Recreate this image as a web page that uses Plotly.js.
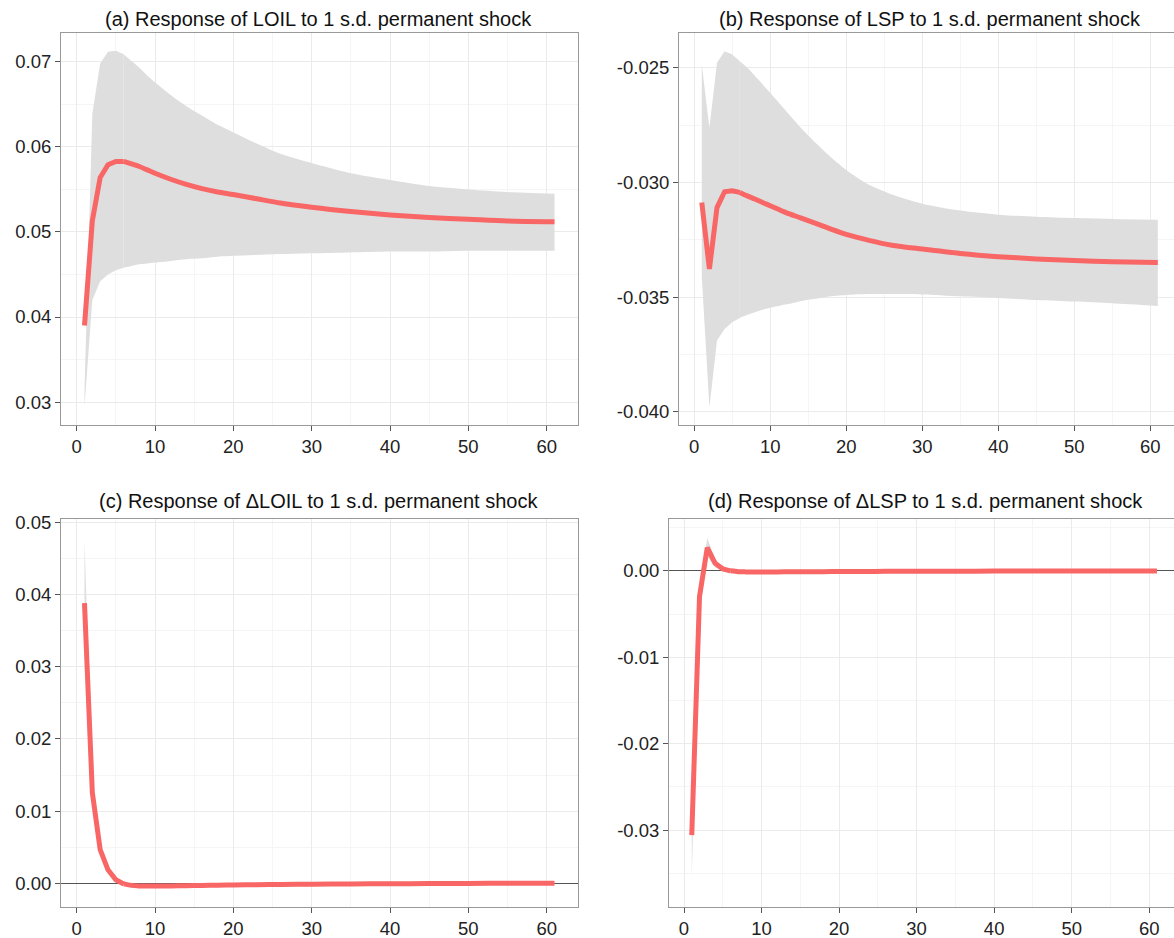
<!DOCTYPE html>
<html>
<head>
<meta charset="utf-8">
<script src="https://cdn.plot.ly/plotly-3.0.1.min.js"></script>
<style>html,body{margin:0;padding:0;background:#fff;overflow:hidden}</style>
</head>
<body>
<div id="chart" style="width:1174px;height:938px"></div>
<script>
const horizon = [1,2,3,4,5,6,7,8,9,10,12,14,16,18,20,23,26,30,35,40,45,50,55,61];

// (a) Response of LOIL
const loilLine  = [0.0390,0.0513,0.0564,0.0579,0.0583,0.0583,0.0580,0.0577,0.0573,0.0569,0.0562,0.0556,0.0551,0.0547,0.0544,0.0539,0.0534,0.0529,0.0524,0.0520,0.0517,0.0515,0.0513,0.0512];
const loilUpper = [0.0315,0.0639,0.0698,0.0712,0.0713,0.0709,0.0701,0.0693,0.0684,0.0676,0.0661,0.0648,0.0637,0.0626,0.0617,0.0604,0.0592,0.0581,0.0569,0.0561,0.0554,0.0550,0.0547,0.0545];
const loilLower = [0.0295,0.0420,0.0442,0.0450,0.0455,0.0458,0.0460,0.0462,0.0463,0.0464,0.0466,0.0468,0.0469,0.0471,0.0472,0.0473,0.0474,0.0475,0.0476,0.0477,0.0477,0.0478,0.0478,0.0478];

// (b) Response of LSP
const lspLine  = [-0.03087,-0.03377,-0.03109,-0.03040,-0.03036,-0.03043,-0.03058,-0.03072,-0.03087,-0.03101,-0.03130,-0.03154,-0.03178,-0.03203,-0.03226,-0.03252,-0.03273,-0.03290,-0.03309,-0.03323,-0.03333,-0.03340,-0.03345,-0.03349];
const lspUpper = [-0.02486,-0.02760,-0.02478,-0.02428,-0.02442,-0.02471,-0.02500,-0.02536,-0.02572,-0.02609,-0.02685,-0.02760,-0.02828,-0.02890,-0.02945,-0.03010,-0.03052,-0.03092,-0.03122,-0.03140,-0.03149,-0.03155,-0.03159,-0.03162];
const lspLower = [-0.03410,-0.03980,-0.03689,-0.03638,-0.03609,-0.03590,-0.03576,-0.03565,-0.03555,-0.03546,-0.03532,-0.03517,-0.03507,-0.03496,-0.03490,-0.03486,-0.03486,-0.03488,-0.03496,-0.03503,-0.03512,-0.03519,-0.03526,-0.03538];

// (c) Response of ΔLOIL
const dloilLine  = [0.03884,0.01256,0.00465,0.00186,0.00047,-0.00010,-0.00030,-0.00038,-0.00040,-0.00040,-0.00038,-0.00035,-0.00031,-0.00028,-0.00025,-0.00021,-0.00017,-0.00013,-0.00010,-0.00007,-0.00005,-0.00003,-0.00002,-0.00001];
const dloilUpper = [0.0474,0.0140,0.0054,0.0022,0.0007,0.0001,-0.0002,-0.0003,-0.0003,-0.0003,-0.0003,-0.0003,-0.0002,-0.0002,-0.0002,-0.0001,-0.0001,-0.0001,-0.0001,0.0000,0.0000,0.0000,0.0000,0.0000];
const dloilLower = [0.0340,0.0112,0.0039,0.0015,0.0003,-0.0003,-0.0004,-0.0005,-0.0005,-0.0005,-0.0005,-0.0004,-0.0004,-0.0004,-0.0003,-0.0003,-0.0002,-0.0002,-0.0001,-0.0001,-0.0001,-0.0001,0.0000,0.0000];

// (d) Response of ΔLSP
const dlspLine  = [-0.03058,-0.00297,0.00270,0.00089,0.00023,0.00000,-0.00010,-0.00012,-0.00013,-0.00013,-0.00012,-0.00011,-0.00010,-0.00009,-0.00008,-0.00007,-0.00006,-0.00005,-0.00004,-0.00003,-0.00002,-0.00002,-0.00001,-0.00001];
const dlspUpper = [-0.0270,-0.0020,0.0038,0.0014,0.0004,0.0001,0.0000,0.0000,0.0000,0.0000,0.0000,0.0000,0.0000,0.0000,0.0000,0.0000,0.0000,0.0000,0.0000,0.0000,0.0000,0.0000,0.0000,0.0000];
const dlspLower = [-0.0354,-0.0040,0.0017,0.0004,0.0000,-0.0001,-0.0002,-0.0002,-0.0002,-0.0002,-0.0002,-0.0002,-0.0002,-0.0002,-0.0002,-0.0001,-0.0001,-0.0001,-0.0001,-0.0001,-0.0001,-0.0001,0.0000,0.0000];

// Tick labels
const xTicks = [0,10,20,30,40,50,60];
const xTickText = ['0','10','20','30','40','50','60'];
const aTicks = [0.03,0.04,0.05,0.06,0.07];
const aTickText = ['0.03','0.04','0.05','0.06','0.07'];
const bTicks = [-0.040,-0.035,-0.030,-0.025];
const bTickText = ['-0.040','-0.035','-0.030','-0.025'];
const cTicks = [0.00,0.01,0.02,0.03,0.04,0.05];
const cTickText = ['0.00','0.01','0.02','0.03','0.04','0.05'];
const dTicks = [-0.03,-0.02,-0.01,0.00];
const dTickText = ['-0.03','-0.02','-0.01','0.00'];

const titles = [
  '(a) Response of LOIL to 1 s.d. permanent shock',
  '(b) Response of LSP to 1 s.d. permanent shock',
  '(c) Response of \u0394LOIL to 1 s.d. permanent shock',
  '(d) Response of \u0394LSP to 1 s.d. permanent shock'
];

const RED = '#F86666';
const BAND = '#DEDEDE';
const SPLIT = 5; // early sharp part drawn straight, the smooth tail drawn as spline

function panel(line, up, lo, xa, ya) {
  const hE = horizon.slice(0, SPLIT + 1), hL = horizon.slice(SPLIT);
  const uE = up.slice(0, SPLIT + 1), lE = lo.slice(0, SPLIT + 1);
  const common = {xaxis: xa, yaxis: ya, type: 'scatter', mode: 'lines', hoverinfo: 'skip', showlegend: false};
  return [
    Object.assign({}, common, {x: hE.concat(hE.slice().reverse()), y: uE.concat(lE.slice().reverse()),
      fill: 'toself', fillcolor: BAND, line: {width: 0, color: BAND}}),
    Object.assign({}, common, {x: hL, y: lo.slice(SPLIT), line: {width: 0, color: BAND, shape: 'spline', smoothing: 0.8}}),
    Object.assign({}, common, {x: hL, y: up.slice(SPLIT), fill: 'tonexty', fillcolor: BAND,
      line: {width: 0, color: BAND, shape: 'spline', smoothing: 0.8}}),
    Object.assign({}, common, {x: hE, y: line.slice(0, SPLIT + 1), line: {color: RED, width: 5}}),
    Object.assign({}, common, {x: hL, y: line.slice(SPLIT), line: {color: RED, width: 5, shape: 'spline', smoothing: 0.8}})
  ];
}

const data = [].concat(
  panel(loilLine, loilUpper, loilLower, 'x', 'y'),
  panel(lspLine, lspUpper, lspLower, 'x2', 'y2'),
  panel(dloilLine, dloilUpper, dloilLower, 'x3', 'y3'),
  panel(dlspLine, dlspUpper, dlspLower, 'x4', 'y4')
);

const W = 1174, H = 938;
const FONT = 'Liberation Sans, Arial, Helvetica, sans-serif';

function xaxis(left, right, range, anchor) {
  return {
    domain: [left / W, right / W], range: range, anchor: anchor,
    tickmode: 'array', tickvals: xTicks, ticktext: xTickText,
    ticks: 'outside', ticklen: 5, tickcolor: '#555', tickwidth: 1,
    tickfont: {size: 18.5, color: '#222', family: FONT},
    showgrid: true, gridcolor: '#EBEBEB', gridwidth: 1,
    minor: {tickmode: 'linear', tick0: 5, dtick: 10, showgrid: true, gridcolor: '#F5F5F5', ticklen: 0},
    showline: true, mirror: true, linecolor: '#999', linewidth: 1,
    zeroline: false, fixedrange: true
  };
}
function yaxis(top, bottom, range, vals, text, anchor, minorTick0, minorDtick, zl) {
  return {
    domain: [1 - bottom / H, 1 - top / H], range: range, anchor: anchor,
    tickmode: 'array', tickvals: vals, ticktext: text,
    ticks: 'outside', ticklen: 5, tickcolor: '#555', tickwidth: 1,
    tickfont: {size: 18.5, color: '#222', family: FONT},
    showgrid: true, gridcolor: '#EBEBEB', gridwidth: 1,
    minor: {tickmode: 'linear', tick0: minorTick0, dtick: minorDtick, showgrid: true, gridcolor: '#F5F5F5', ticklen: 0},
    showline: true, mirror: true, linecolor: '#999', linewidth: 1,
    zeroline: zl, zerolinecolor: '#555', zerolinewidth: 1, fixedrange: true
  };
}

function titleAnn(text, cx, cy) {
  return {text: text, x: cx / W, y: 1 - cy / H, xref: 'paper', yref: 'paper',
          xanchor: 'center', yanchor: 'middle', showarrow: false,
          font: {size: 20, color: '#111', family: FONT}};
}

const layout = {
  width: W, height: H,
  margin: {l: 0, r: 0, t: 0, b: 0},
  paper_bgcolor: '#fff', plot_bgcolor: '#fff',
  font: {family: FONT},
  showlegend: false,
  xaxis:  xaxis(61, 578, [-2, 64], 'y'),
  yaxis:  yaxis(33, 425, [0.0273, 0.0734], aTicks, aTickText, 'x', 0.025, 0.01, false),
  xaxis2: xaxis(679, 1174, [-2, 63.13], 'y2'),
  yaxis2: yaxis(33, 425, [-0.04057, -0.02348], bTicks, bTickText, 'x2', -0.0425, 0.005, false),
  xaxis3: xaxis(61, 578, [-2, 64], 'y3'),
  yaxis3: yaxis(519, 907, [-0.0033, 0.0505], cTicks, cTickText, 'x3', 0.005, 0.01, true),
  xaxis4: xaxis(669, 1174, [-1.935, 63.2], 'y4'),
  yaxis4: yaxis(519, 907, [-0.0389, 0.0060], dTicks, dTickText, 'x4', 0.005, 0.01, true),
  annotations: [
    titleAnn(titles[0], 318, 19),
    titleAnn(titles[1], 930, 19),
    titleAnn(titles[2], 318, 501),
    titleAnn(titles[3], 925, 501)
  ]
};

Plotly.newPlot('chart', data, layout, {displayModeBar: false, staticPlot: true});
</script>
</body>
</html>
